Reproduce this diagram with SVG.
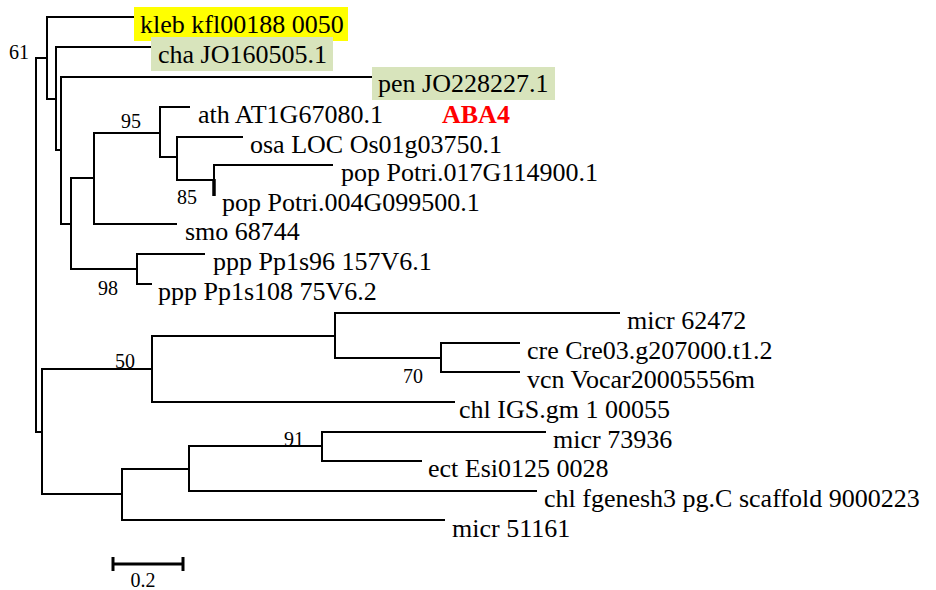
<svg xmlns="http://www.w3.org/2000/svg" width="936" height="590" viewBox="0 0 936 590">
<style>
.br{fill:none;stroke:#000;stroke-width:2;stroke-linejoin:miter;stroke-linecap:butt}
.lf{font-family:"Liberation Serif","Times New Roman",serif;font-size:26px;fill:#000}
.bs{font-family:"Liberation Serif","Times New Roman",serif;font-size:20px;fill:#000}
.hy{fill:#ffff00}
.hg{fill:#d8e4bc}
</style>
<rect width="936" height="590" fill="#fff"/>
<g id="highlights">
<rect class="hy" x="134" y="7" width="214" height="34"/>
<rect class="hg" x="151" y="37" width="182" height="34"/>
<rect class="hg" x="372" y="67" width="183" height="33"/>
</g>
<g id="connectors">
<path class="br" d="M47 58 H36 V432 H42"/>
<path class="br" d="M134 17 H47 V99 H56"/>
<path class="br" d="M151 47 H56 V150 H61"/>
<path class="br" d="M372 77 H61 V224 H71"/>
<path class="br" d="M94 178 H71 V269 H137"/>
<path class="br" d="M160 133 H94 V224 H177"/>
<path class="br" d="M190 107 H160 V157 H177"/>
<path class="br" d="M243 137 H177 V180 H214"/>
<path class="br" d="M333 165 H214 V180"/>
<path d="M214 179 V196" stroke="#000" stroke-width="3.5" fill="none"/>
<path class="br" d="M205 254 H137 V284 H152"/>
<path class="br" d="M152 369 H42 V494 H122"/>
<path class="br" d="M335 336 H152 V402 H455"/>
<path class="br" d="M620 313 H335 V358 H441"/>
<path class="br" d="M520 343 H441 V372 H520"/>
<path class="br" d="M189 469 H122 V520 H445"/>
<path class="br" d="M322 446 H189 V491 H537"/>
<path class="br" d="M546 432 H322 V461 H422"/>
</g>
<g id="leaf-kleb"><text class="lf" x="140" y="33">kleb kfl00188 0050</text></g>
<g id="leaf-cha"><text class="lf" x="158" y="63">cha JO160505.1</text></g>
<g id="leaf-pen"><text class="lf" x="378" y="92">pen JO228227.1</text></g>
<g id="leaf-ath"><text class="lf" x="198" y="123">ath AT1G67080.1</text></g>
<g id="label-aba4"><text x="442" y="123" font-family="Liberation Serif, Times New Roman, serif" font-size="26" font-weight="bold" fill="#ff0000">ABA4</text></g>
<g id="leaf-osa"><text class="lf" x="250" y="153">osa LOC Os01g03750.1</text></g>
<g id="leaf-pop017"><text class="lf" x="341" y="181">pop Potri.017G114900.1</text></g>
<g id="leaf-pop004"><text class="lf" x="222" y="211">pop Potri.004G099500.1</text></g>
<g id="leaf-smo"><text class="lf" x="185" y="240">smo 68744</text></g>
<g id="leaf-ppp96"><text class="lf" x="213" y="270">ppp Pp1s96 157V6.1</text></g>
<g id="leaf-ppp108"><text class="lf" x="158" y="300">ppp Pp1s108 75V6.2</text></g>
<g id="leaf-micr62472"><text class="lf" x="627" y="329">micr 62472</text></g>
<g id="leaf-cre"><text class="lf" x="527" y="359">cre Cre03.g207000.t1.2</text></g>
<g id="leaf-vcn"><text class="lf" x="527" y="388">vcn Vocar20005556m</text></g>
<g id="leaf-chlIGS"><text class="lf" x="459" y="418">chl IGS.gm 1 00055</text></g>
<g id="leaf-micr73936"><text class="lf" x="553" y="448">micr 73936</text></g>
<g id="leaf-ect"><text class="lf" x="428" y="477">ect Esi0125 0028</text></g>
<g id="leaf-chlfgenesh"><text class="lf" x="544" y="507">chl fgenesh3 pg.C scaffold 9000223</text></g>
<g id="leaf-micr51161"><text class="lf" x="452" y="537">micr 51161</text></g>
<g id="bootstrap">
<text class="bs" x="9" y="59">61</text>
<text class="bs" x="121" y="128">95</text>
<text class="bs" x="177" y="204">85</text>
<text class="bs" x="98" y="295">98</text>
<text class="bs" x="115" y="368">50</text>
<text class="bs" x="403" y="383">70</text>
<text class="bs" x="284" y="446">91</text>
</g>
<g id="scale-bar">
<path d="M113 564 H183 M113 557 V571 M183 557 V571" stroke="#000" stroke-width="3" fill="none"/>
<text class="bs" x="143" y="587" text-anchor="middle">0.2</text>
</g>
</svg>
